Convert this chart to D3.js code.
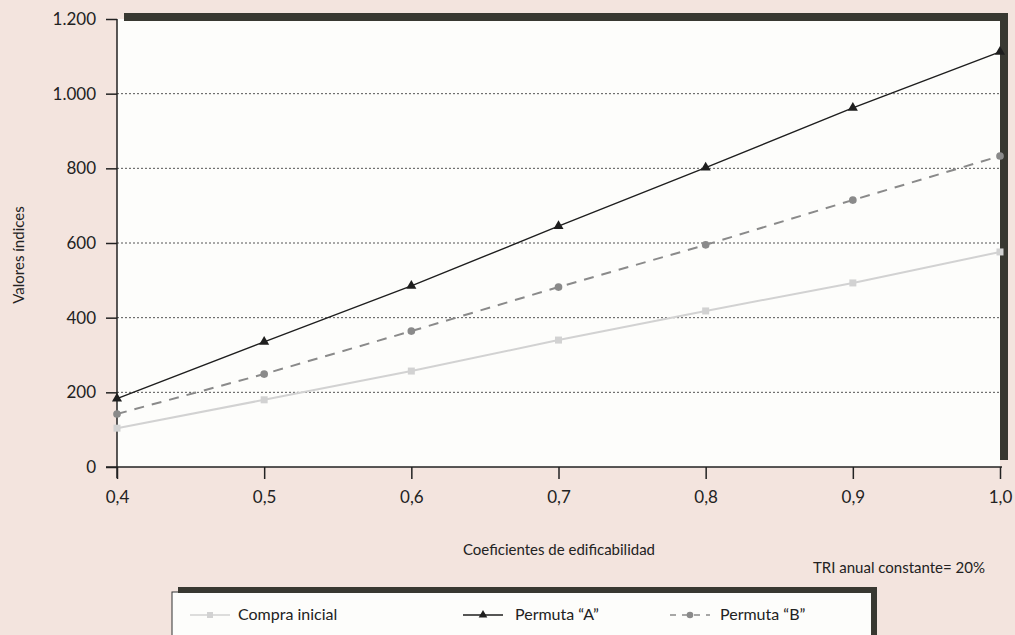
<!DOCTYPE html>
<html>
<head>
<meta charset="utf-8">
<script src="https://cdn.jsdelivr.net/npm/d3@7"></script>
<style>
  html, body { margin: 0; padding: 0; background: #f3e4de; }
  svg { display: block; font-family: Lato, "Open Sans", sans-serif; }
</style>
</head>
<body>
<div id="chart"></div>
<script>
// Data
const coefs = [0.4, 0.5, 0.6, 0.7, 0.8, 0.9, 1.0];
const compraInicial = [104, 180, 257, 340, 418, 493, 576];
const permutaA = [183, 335, 485, 645, 802, 962, 1112];
const permutaB = [142, 249, 364, 482, 595, 715, 833];
const yTicks = [0, 200, 400, 600, 800, 1000, 1200];
const seriesNames = ["Compra inicial", "Permuta \u201cA\u201d", "Permuta \u201cB\u201d"];

const width = 1015, height = 635;
const locale = d3.formatLocale({ decimal: ",", thousands: ".", grouping: [3], currency: ["", "€"] });

const svg = d3.select("#chart").append("svg")
  .attr("width", width)
  .attr("height", height);

const x = d3.scaleLinear().domain([0.4, 1.0]).range([117, 1000]);
const y = d3.scaleLinear().domain([0, 1200]).range([467, 19]);

// plot background
svg.append("rect")
  .attr("x", x(0.4)).attr("y", y(1200))
  .attr("width", x(1.0) - x(0.4)).attr("height", y(0) - y(1200))
  .style("fill", "#fdfdfb");

// dotted gridlines
svg.append("g")
  .selectAll("line")
  .data(yTicks.filter(d => d > 0 && d < 1200))
  .enter().append("line")
  .attr("x1", x(0.4)).attr("x2", x(1.0))
  .attr("y1", d => y(d)).attr("y2", d => y(d))
  .style("stroke", "#555")
  .style("stroke-width", 1)
  .style("stroke-dasharray", "2,2");

// shadow bars on top and right
svg.append("rect")
  .attr("x", x(0.4) + 7).attr("y", y(1200) - 6)
  .attr("width", x(1.0) - x(0.4)).attr("height", 8)
  .style("fill", "#383831");
svg.append("rect")
  .attr("x", x(1.0)).attr("y", y(1200) - 6)
  .attr("width", 8).attr("height", y(0) - y(1200) - 1)
  .style("fill", "#383831");

// axes
const yAxis = d3.axisLeft(y).tickValues(yTicks).tickFormat(locale.format(",")).tickSize(11).tickPadding(10);
const gy = svg.append("g").attr("transform", `translate(${x(0.4)},0)`).call(yAxis);
gy.select(".domain").remove();
gy.append("line").attr("x1", 0).attr("x2", 0).attr("y1", y(1200)).attr("y2", y(0) + 11)
  .style("stroke", "#222").style("stroke-width", 1.5);

const xAxis = d3.axisBottom(x).tickValues(coefs).tickFormat(locale.format(".1f")).tickSize(12).tickPadding(12);
const gx = svg.append("g").attr("transform", `translate(0,${y(0)})`).call(xAxis);
gx.select(".domain").remove();
gx.append("line").attr("x1", x(0.4) - 11).attr("x2", x(1.0) + 2).attr("y1", 0).attr("y2", 0)
  .style("stroke", "#222").style("stroke-width", 1.5);

[gx, gy].forEach(g => {
  g.selectAll(".tick line").style("stroke", "#222").style("stroke-width", 1.5);
  g.selectAll(".tick text").style("font-size", "17px").style("fill", "#222")
    .style("font-family", "Lato, sans-serif");
});

// lines
const line = d3.line().x((d, i) => x(coefs[i])).y(d => y(d));

const compra = { name: seriesNames[0], values: compraInicial, color: "#d2d2d2", dash: null, marker: "square" };
const pA = { name: seriesNames[1], values: permutaA, color: "#1e1e1e", dash: null, marker: "triangle" };
const pB = { name: seriesNames[2], values: permutaB, color: "#8a8a8a", dash: "10,8", marker: "circle" };

function drawMarker(g, type, color, cx, cy, s) {
  if (type === "circle") {
    g.append("circle").attr("cx", cx).attr("cy", cy).attr("r", s * 0.55).style("fill", color);
  } else if (type === "square") {
    g.append("rect").attr("x", cx - s / 2).attr("y", cy - s / 2).attr("width", s).attr("height", s).style("fill", color);
  } else {
    g.append("path").attr("d", d3.symbol(d3.symbolTriangle, s * s * 0.9)())
      .attr("transform", `translate(${cx},${cy})`).style("fill", color);
  }
}

[compra, pB, pA].forEach(s => {
  svg.append("path")
    .datum(s.values)
    .attr("d", line)
    .style("fill", "none")
    .style("stroke", s.color)
    .style("stroke-width", s.marker === "triangle" ? 1.4 : 2)
    .style("stroke-dasharray", s.dash);
  const g = svg.append("g");
  s.values.forEach((v, i) => drawMarker(g, s.marker, s.color, x(coefs[i]), y(v), 7));
});

// axis titles
svg.append("text")
  .attr("transform", `translate(24,${(y(0) + y(1200)) / 2 + 12}) rotate(-90)`)
  .attr("text-anchor", "middle")
  .style("font-size", "15px").style("fill", "#222")
  .text("Valores índices");

svg.append("text")
  .attr("x", 559).attr("y", 555)
  .attr("text-anchor", "middle")
  .style("font-size", "15px").style("fill", "#222")
  .text("Coeficientes de edificabilidad");

svg.append("text")
  .attr("x", 985).attr("y", 573)
  .attr("text-anchor", "end")
  .style("font-size", "15px").style("fill", "#222")
  .text("TRI anual constante= 20%");

// legend box
const lg = svg.append("g");
lg.append("rect").attr("x", 172).attr("y", 592).attr("width", 700).attr("height", 60)
  .style("fill", "#fdfdfb").style("stroke", "#333").style("stroke-width", 1);
lg.append("rect").attr("x", 178).attr("y", 587).attr("width", 699).attr("height", 6).style("fill", "#383831");
lg.append("rect").attr("x", 871).attr("y", 587).attr("width", 6).attr("height", 60).style("fill", "#383831");

const legendItems = [
  { s: compra, x0: 190, tx: 238 },
  { s: pA, x0: 463, tx: 515 },
  { s: pB, x0: 670, tx: 720 }
];

legendItems.forEach(it => {
  const ly = 615;
  lg.append("line").attr("x1", it.x0).attr("x2", it.x0 + 40).attr("y1", ly).attr("y2", ly)
    .style("stroke", it.s.color).style("stroke-width", 1.5)
    .style("stroke-dasharray", it.s.dash ? "6,6" : null);
  drawMarker(lg, it.s.marker, it.s.color, it.x0 + 20, ly, 6);
  lg.append("text").attr("x", it.tx).attr("y", ly + 5)
    .style("font-size", "16px").style("fill", "#222")
    .text(it.s.name);
});
</script>
</body>
</html>
